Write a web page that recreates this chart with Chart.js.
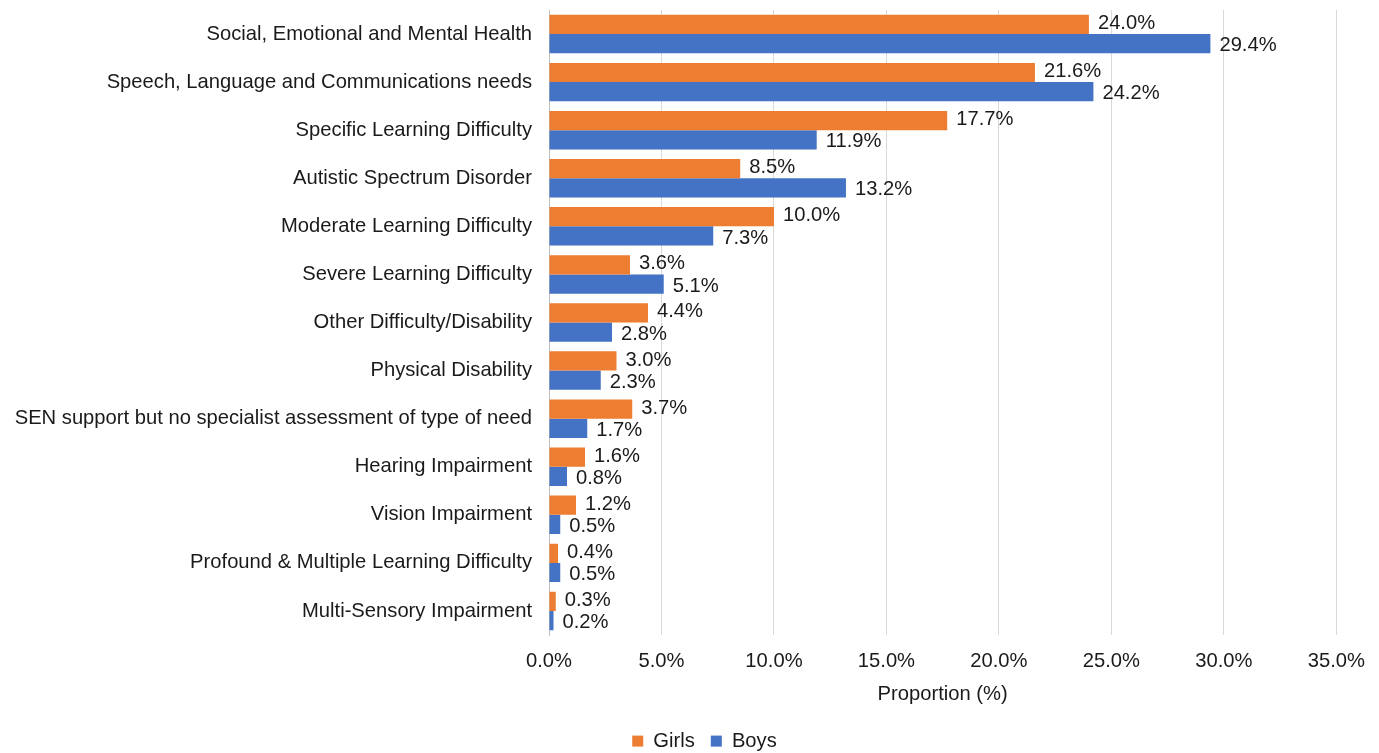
<!DOCTYPE html>
<html>
<head>
<meta charset="utf-8">
<script src="https://cdn.jsdelivr.net/npm/chart.js@4.4.0/dist/chart.umd.min.js"></script>
<style>
  html, body { margin: 0; padding: 0; background: #fff; }
  #wrap { width: 1379px; height: 753px; position: relative; }
</style>
</head>
<body>
<div id="wrap"><canvas id="chart"></canvas></div>
<script>
// categories, top to bottom
var aCategories = [
    'Social, Emotional and Mental Health',
    'Speech, Language and Communications needs',
    'Specific Learning Difficulty',
    'Autistic Spectrum Disorder',
    'Moderate Learning Difficulty',
    'Severe Learning Difficulty',
    'Other Difficulty/Disability',
    'Physical Disability',
    'SEN support but no specialist assessment of type of need',
    'Hearing Impairment',
    'Vision Impairment',
    'Profound & Multiple Learning Difficulty',
    'Multi-Sensory Impairment'
];
var aGirls = [24.0, 21.6, 17.7, 8.5, 10.0, 3.6, 4.4, 3.0, 3.7, 1.6, 1.2, 0.4, 0.3];
var aBoys = [29.4, 24.2, 11.9, 13.2, 7.3, 5.1, 2.8, 2.3, 1.7, 0.8, 0.5, 0.5, 0.2];
var aTicks = [0, 5, 10, 15, 20, 25, 30, 35];

var sFont = '"Liberation Sans", Arial, sans-serif';
var sText = '#1a1a1a';
var iFontSize = 20.2;
Chart.defaults.font.family = sFont;
Chart.defaults.color = sText;

// value labels right of each bar (girls nudged up, boys down)
var oBarLabels = {
    id: 'barLabels',
    afterDatasetsDraw: function(chart) {
        var ctx = chart.ctx;
        ctx.save();
        ctx.font = iFontSize + 'px ' + sFont;
        ctx.fillStyle = sText;
        ctx.textAlign = 'left';
        ctx.textBaseline = 'middle';
        chart.data.datasets.forEach(function(ds, i) {
            var meta = chart.getDatasetMeta(i);
            var iShift = i == 0 ? -1 : 2;
            meta.data.forEach(function(bar, j) {
                ctx.fillText(ds.data[j].toFixed(1) + '%', bar.x + 9, bar.y + iShift);
            });
        });
        ctx.restore();
    }
};

// keep the legend box at a fixed height and nudge it right
var oLegendBox = {
    id: 'legendBox',
    beforeLayout: function(chart) {
        var oLegend = chart.legend;
        if (!oLegend || oLegend._bFixed)
            return;
        var fFit = oLegend.fit;
        oLegend.fit = function() {
            fFit.call(this);
            this.height = 38;
        };
        oLegend._bFixed = true;
    },
    afterLayout: function(chart) {
        if (!chart.legend)
            return;
        chart.legend.left += 36;
        chart.legend.right += 36;
    }
};

new Chart(document.getElementById('chart'), {
    type: 'bar',
    data: {
        labels: aCategories,
        datasets: [{
            label: 'Girls',
            data: aGirls,
            backgroundColor: '#ED7D31',
            categoryPercentage: 0.8,
            barPercentage: 1.0
        }, {
            label: 'Boys',
            data: aBoys,
            backgroundColor: '#4472C4',
            categoryPercentage: 0.8,
            barPercentage: 1.0
        }]
    },
    options: {
        indexAxis: 'y',
        responsive: true,
        maintainAspectRatio: false,
        animation: false,
        layout: { padding: { top: 10, right: 42, left: 0, bottom: 0 } },
        plugins: {
            legend: {
                position: 'bottom',
                labels: {
                    boxWidth: 11,
                    boxHeight: 11,
                    padding: 16,
                    font: { size: iFontSize },
                    color: sText
                }
            },
            tooltip: { enabled: false }
        },
        scales: {
            x: {
                min: 0,
                max: 35,
                afterBuildTicks: function(axis) {
                    axis.ticks = aTicks.map(function(v) { return { value: v }; });
                },
                ticks: {
                    font: { size: iFontSize },
                    color: sText,
                    padding: 14,
                    callback: function(v) { return v.toFixed(1) + '%'; }
                },
                grid: { color: '#d9d9d9', drawTicks: false },
                border: { display: false },
                title: {
                    display: true,
                    text: 'Proportion (%)',
                    font: { size: iFontSize },
                    color: sText,
                    padding: { top: 4, bottom: 8 }
                },
                afterFit: function(axis) { axis.height = 80; }
            },
            y: {
                ticks: {
                    font: { size: iFontSize },
                    color: sText,
                    padding: 17,
                    autoSkip: false
                },
                grid: { display: false, drawTicks: false },
                border: { display: true, color: '#bfbfbf', width: 1 },
                afterFit: function(axis) {
                    axis.width = 549;
                    axis.paddingTop = 0;
                    axis.paddingBottom = 0;
                }
            }
        }
    },
    plugins: [oBarLabels, oLegendBox]
});
</script>
</body>
</html>
